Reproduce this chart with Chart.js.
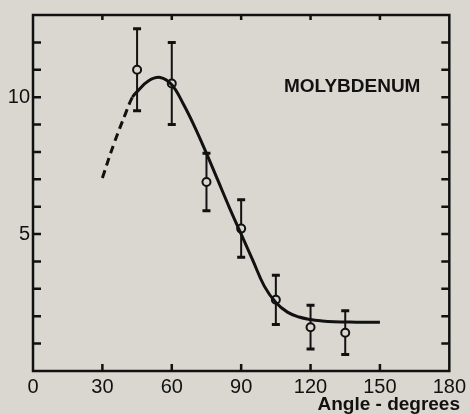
<!DOCTYPE html>
<html>
<head>
<meta charset="utf-8">
<script src="https://cdn.jsdelivr.net/npm/chart.js@4"></script>
<style>
    body { margin: 0; background: #d9d7cf; }
    #caixa { width: 470px; height: 414px; }
</style>
</head>
<body>
<div id="caixa"><canvas id="grafico"></canvas></div>
<script>
// pontos medidos
const angulos = [45, 60, 75, 90, 105, 120, 135];
const valores = [11.0, 10.5, 6.9, 5.2, 2.6, 1.6, 1.4];
const erros = [1.5, 1.5, 1.05, 1.05, 0.9, 0.8, 0.8];

// curva (parte tracejada ate 43 graus, depois cheia)
const curvaTracejadaX = [30, 35, 40];
const curvaTracejadaY = [7.05, 8.3, 9.4];
const curvaX = [43, 45, 50, 55, 60, 65, 70, 75, 80, 85, 90, 95, 100, 105, 110, 115, 120, 125, 130, 135, 140, 145, 150];
const curvaY = [10.0, 10.2, 10.6, 10.72, 10.45, 9.75, 8.9, 7.95, 6.95, 5.95, 5.0, 4.05, 3.1, 2.5, 2.15, 1.97, 1.88, 1.83, 1.8, 1.79, 1.78, 1.78, 1.78];

const ticksX = [0, 30, 60, 90, 120, 150, 180];
const rotulosY = [5, 10];
const rotulo = 'MOLYBDENUM';
const tituloX = 'Angle - degrees';

const fundo = '#d9d7cf';
const fonte = '"Liberation Sans", Arial, sans-serif';
const fimTracejado = 43;

function paraPontos(xs, ys) {
    return xs.map((x, i) => ({ x: x, y: ys[i] }));
}

// desenha moldura, marcas para dentro, barras de erro e textos
const extras = {
    id: 'extras',
    beforeDatasetsDraw(chart) {
        const ctx = chart.ctx;
        const x = chart.scales.x;
        const y = chart.scales.y;
        ctx.save();
        ctx.strokeStyle = '#111';
        ctx.lineCap = 'butt';
        // barras de erro
        angulos.forEach((a, i) => {
            const px = x.getPixelForValue(a);
            const yTop = y.getPixelForValue(valores[i] + erros[i]);
            const yBot = y.getPixelForValue(valores[i] - erros[i]);
            ctx.lineWidth = 2;
            ctx.beginPath();
            ctx.moveTo(px, yTop);
            ctx.lineTo(px, yBot);
            ctx.stroke();
            ctx.lineWidth = 3;
            ctx.beginPath();
            ctx.moveTo(px - 4, yTop);
            ctx.lineTo(px + 4, yTop);
            ctx.moveTo(px - 4, yBot);
            ctx.lineTo(px + 4, yBot);
            ctx.stroke();
        });
        ctx.restore();
    },
    afterDraw(chart) {
        const ctx = chart.ctx;
        const area = chart.chartArea;
        const x = chart.scales.x;
        const y = chart.scales.y;
        ctx.save();
        ctx.strokeStyle = '#111';
        ctx.lineWidth = 2.5;
        ctx.strokeRect(area.left, area.top, area.right - area.left, area.bottom - area.top);
        ctx.beginPath();
        for (let v = 1; v <= 12; v++) {
            const py = y.getPixelForValue(v);
            ctx.moveTo(area.left, py);
            ctx.lineTo(area.left + 8, py);
            ctx.moveTo(area.right, py);
            ctx.lineTo(area.right - 8, py);
        }
        ticksX.slice(1, -1).forEach(t => {
            const px = x.getPixelForValue(t);
            ctx.moveTo(px, area.bottom);
            ctx.lineTo(px, area.bottom - 7);
            ctx.moveTo(px, area.top);
            ctx.lineTo(px, area.top + 5);
        });
        ctx.stroke();

        ctx.fillStyle = '#111';
        ctx.font = 'bold 19px ' + fonte;
        ctx.textAlign = 'center';
        ctx.textBaseline = 'alphabetic';
        ctx.fillText(rotulo, x.getPixelForValue(138), y.getPixelForValue(10.2));
        ctx.textAlign = 'right';
        ctx.fillText(tituloX, 460, 410);
        ctx.restore();
    }
};

const grafico = document.getElementById('grafico');

new Chart(grafico, {
    type: 'scatter',
    data: {
        datasets: [{
            data: paraPontos(curvaTracejadaX.concat(curvaX), curvaTracejadaY.concat(curvaY)),
            showLine: true,
            borderColor: '#111',
            borderWidth: 3,
            pointRadius: 0,
            tension: 0.4,
            segment: {
                borderDash: ctx => ctx.p1.parsed.x <= fimTracejado ? [8, 5] : undefined
            }
        }, {
            data: paraPontos(angulos, valores),
            showLine: false,
            pointRadius: 4,
            pointBorderWidth: 2,
            pointBorderColor: '#111',
            pointBackgroundColor: fundo
        }]
    },
    options: {
        responsive: true,
        maintainAspectRatio: false,
        animation: false,
        layout: { padding: { top: 11, right: 16, left: 0, bottom: 0 } },
        plugins: {
            legend: { display: false },
            tooltip: { enabled: false }
        },
        scales: {
            x: {
                type: 'linear',
                min: 0,
                max: 180,
                afterBuildTicks: scale => { scale.ticks = ticksX.map(v => ({ value: v })); },
                afterFit: scale => { scale.height = 43; },
                grid: { display: false, drawTicks: false },
                border: { display: false },
                ticks: {
                    color: '#111',
                    padding: 4,
                    maxRotation: 0,
                    font: { family: fonte, size: 20 }
                }
            },
            y: {
                type: 'linear',
                min: 0,
                max: 13,
                afterBuildTicks: scale => { scale.ticks = rotulosY.map(v => ({ value: v })); },
                afterFit: scale => { scale.width = 33; },
                grid: { display: false, drawTicks: false },
                border: { display: false },
                ticks: {
                    color: '#111',
                    padding: 3,
                    font: { family: fonte, size: 20 }
                }
            }
        }
    },
    plugins: [extras]
});
</script>
</body>
</html>
